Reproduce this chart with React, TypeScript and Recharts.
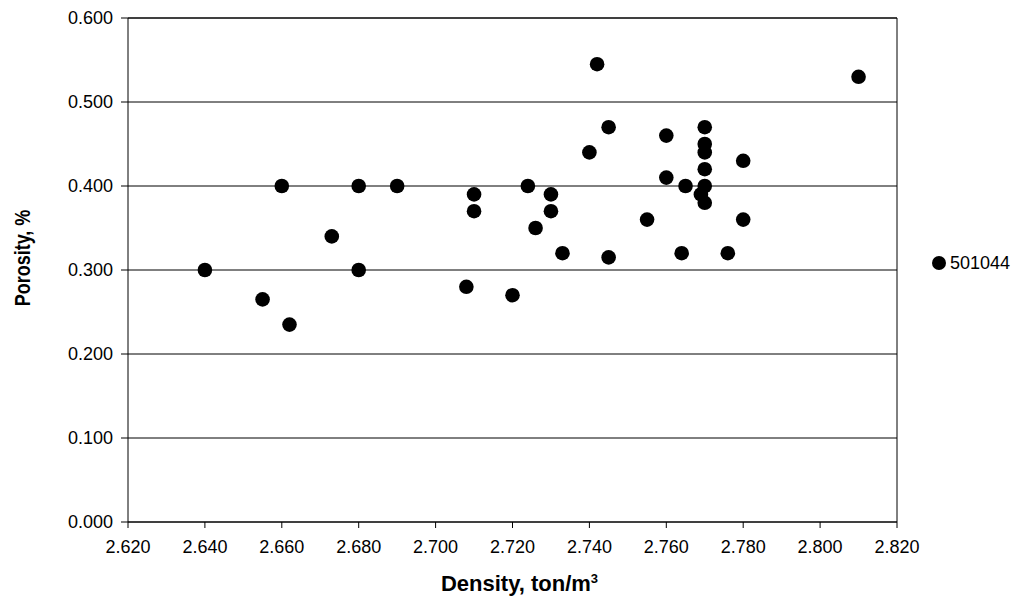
import React from 'react';
import { ScatterChart, Scatter, XAxis, YAxis, CartesianGrid, ReferenceLine } from 'recharts';

const densityValues = [
  2.640, 2.655, 2.662, 2.660, 2.673, 2.680, 2.680, 2.690,
  2.708, 2.710, 2.710, 2.720, 2.724, 2.726, 2.730, 2.730, 2.733,
  2.740, 2.742, 2.745, 2.745, 2.755, 2.760, 2.760, 2.764, 2.765,
  2.769, 2.770, 2.770, 2.770, 2.770, 2.770, 2.770, 2.776, 2.780, 2.780, 2.810,
];
const porosityValues = [
  0.300, 0.265, 0.235, 0.400, 0.340, 0.400, 0.300, 0.400,
  0.280, 0.390, 0.370, 0.270, 0.400, 0.350, 0.390, 0.370, 0.320,
  0.440, 0.545, 0.470, 0.315, 0.360, 0.460, 0.410, 0.320, 0.400,
  0.390, 0.470, 0.450, 0.440, 0.420, 0.400, 0.380, 0.320, 0.430, 0.360, 0.530,
];
const xTicks = [2.62, 2.64, 2.66, 2.68, 2.7, 2.72, 2.74, 2.76, 2.78, 2.8, 2.82];
const yTicks = [0, 0.1, 0.2, 0.3, 0.4, 0.5, 0.6];
const seriesName = '501044';

const points = densityValues.map((d, i) => ({ density: d, porosity: porosityValues[i] }));

const FONT = '"Liberation Sans", Arial, sans-serif';

const Dot = (props: any) => {
  const { cx, cy } = props;
  return <circle cx={cx} cy={cy} r={7.3} fill="#000" />;
};

export default function App() {
  return (
    <div style={{ position: 'absolute', left: 0, top: 0, width: 1015, height: 601, background: '#fff', fontFamily: FONT }}>
      <ScatterChart width={1015} height={601} margin={{ top: 18, right: 118, bottom: 0, left: 0 }}>
        <CartesianGrid horizontal={true} vertical={false} stroke="#000" strokeOpacity={1} />
        <XAxis
          type="number"
          dataKey="density"
          domain={[2.62, 2.82]}
          ticks={xTicks}
          tickFormatter={(v: number) => v.toFixed(3)}
          height={79}
          stroke="#000"
          tickSize={6}
          tickMargin={12}
          tick={{ fill: '#000', fontSize: 18, fontFamily: FONT }}
          allowDataOverflow
          label={{
            content: (p: any) => {
              const vb = p.viewBox;
              const cx = vb.x + vb.width / 2 + 7;
              return (
                <text x={cx} y={591} textAnchor="middle" fontFamily={FONT} fontSize={22} fontWeight="bold" fill="#000">
                  Density, ton/m<tspan fontSize={13} dy={-8}>3</tspan>
                </text>
              );
            },
          }}
        />
        <YAxis
          type="number"
          dataKey="porosity"
          domain={[0, 0.6]}
          ticks={yTicks}
          tickFormatter={(v: number) => v.toFixed(3)}
          width={128}
          stroke="#000"
          tickSize={7}
          tickMargin={8}
          tick={{ fill: '#000', fontSize: 18, fontFamily: FONT }}
          allowDataOverflow
          label={{
            content: (p: any) => {
              const vb = p.viewBox;
              const cy = vb.y + vb.height / 2 - 12;
              return (
                <text x={0} y={0} transform={`translate(30 ${cy}) scale(1.25 1) rotate(-90)`} textAnchor="middle" fontFamily={FONT} fontSize={18} fontWeight="bold" fill="#000">
                  Porosity, %
                </text>
              );
            },
          }}
        />
        <ReferenceLine y={0.6} stroke="#000" />
        <ReferenceLine x={2.82} stroke="#000" />
        <Scatter name={seriesName} data={points} fill="#000" shape={Dot} isAnimationActive={false} />
      </ScatterChart>
      <div style={{ position: 'absolute', left: 931, top: 252, display: 'flex', alignItems: 'center', fontSize: 18, color: '#000' }}>
        <svg width={16} height={22} style={{ marginRight: 3 }}>
          <circle cx={8} cy={11} r={7} fill="#000" />
        </svg>
        <span>{seriesName}</span>
      </div>
    </div>
  );
}
